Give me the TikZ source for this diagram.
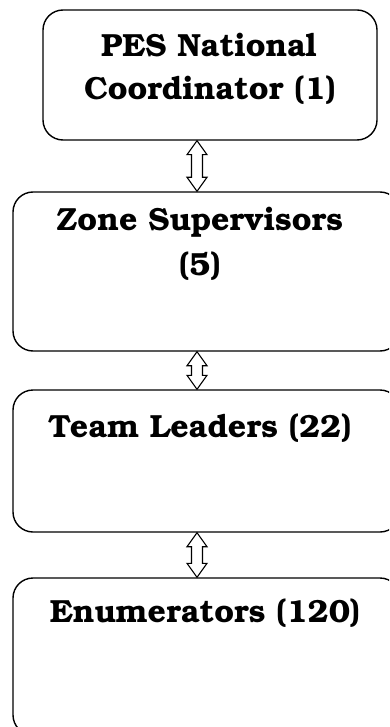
\documentclass[tikz,border=0pt]{standalone}
\usepackage[T1]{fontenc}
\usepackage{bookman}
\usetikzlibrary{calc}
\tikzset{
  box/.style={draw, line width=1.4pt, rounded corners=20pt, inner sep=0pt},
  lbl/.style={font=\fontsize{32}{43}\selectfont\bfseries, align=center, inner sep=0pt},
  dblarrow/.style={draw, fill=white, line width=1.1pt, line join=miter}
}
\newcommand\dblarr[2]{%
  \draw[dblarrow] ($(#1.south -| ax)$) -- ++(10,14) -- ++(-4.5,0)
    -- ($(#2.north -| ax)+(5.5,-14)$) -- ++(4.5,0) -- ($(#2.north -| ax)$)
    -- ++(-10,-14) -- ++(4.5,0) -- ($(#1.south -| ax)+(-5.5,14)$) -- ++(-4.5,0) -- cycle;}
\begin{document}
\begin{tikzpicture}[x=1pt,y=-1pt]
\useasboundingbox (0,0) rectangle (389,727);
\clip (0,0) rectangle (389,727);
\coordinate (ax) at (197,0);
\node[box, minimum width=334pt, minimum height=130pt] (b1) at (210,75) {};
\node[box, minimum width=387pt, minimum height=159pt] (b2) at (206.5,271.5) {};
\node[box, minimum width=387pt, minimum height=142pt] (b3) at (206.5,461) {};
\node[box, minimum width=387pt, minimum height=157pt] (b4) at (206.5,656.5) {};
\node[lbl, anchor=base] (t1a) at (209,57) {PES National};
\node[lbl, anchor=base] (t1b) at (210,100) {Coordinator (1)};
\node[lbl, anchor=base] (t2a) at (200,230) {Zone Supervisors};
\node[lbl, anchor=base] (t2b) at (200,275) {(5)};
\node[lbl, anchor=base] (t3) at (200,437) {Team Leaders (22)};
\node[lbl, anchor=base] (t4) at (205,622) {Enumerators (120)};
\dblarr{b1}{b2}
\dblarr{b2}{b3}
\dblarr{b3}{b4}
\end{tikzpicture}
\end{document}
